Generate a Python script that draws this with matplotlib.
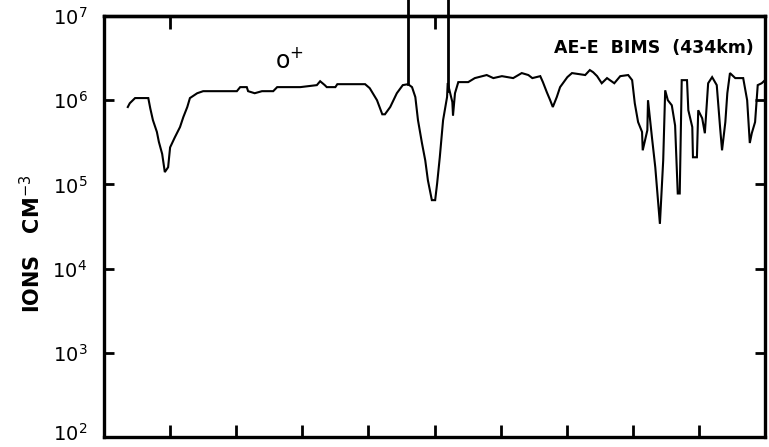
import matplotlib
matplotlib.use("Agg")
import matplotlib.pyplot as plt
import matplotlib.transforms as mtransforms
import numpy as np

# Time axis in tick-interval units (0..10), ion density in cm^-3
t = [0.36, 0.39, 0.47, 0.67, 0.70, 0.74, 0.80, 0.83, 0.88, 0.92, 0.97, 1.00, 1.07, 1.15, 1.20, 1.26, 1.30, 1.41, 1.50,
     2.01, 2.06, 2.16, 2.18, 2.28, 2.39, 2.56, 2.62, 2.77, 2.97, 3.22, 3.27, 3.34, 3.37, 3.50, 3.53, 3.95,
     4.02, 4.13, 4.21, 4.25, 4.33, 4.43, 4.52, 4.60, 4.66, 4.71, 4.75, 4.81, 4.86, 4.90, 4.96, 5.01, 5.04,
     5.08, 5.13, 5.19, 5.20, 5.27, 5.28, 5.31, 5.36, 5.51, 5.61, 5.79, 5.89, 6.02, 6.19, 6.32, 6.42, 6.48,
     6.60, 6.64, 6.70, 6.75, 6.79, 6.85, 6.90, 7.01, 7.08, 7.28, 7.35, 7.40, 7.46, 7.53, 7.61, 7.72, 7.81,
     7.93, 7.99, 8.03, 8.08, 8.14, 8.15, 8.22, 8.23, 8.29, 8.34, 8.38, 8.41, 8.46, 8.49, 8.53, 8.59, 8.64,
     8.68, 8.71, 8.74, 8.82, 8.84, 8.90, 8.91, 8.97, 8.99, 9.05, 9.09, 9.14, 9.20, 9.27, 9.32, 9.35, 9.40,
     9.43, 9.47, 9.55, 9.67, 9.73, 9.77, 9.80, 9.85, 9.89, 9.95, 10.0]
ions = [8.3e5, 9.2e5, 1.06e6, 1.06e6, 8.0e5, 5.8e5, 4.2e5, 3.2e5, 2.3e5, 1.4e5, 1.6e5, 2.75e5, 3.6e5, 4.8e5, 6.3e5, 8.3e5, 1.06e6, 1.21e6, 1.28e6,
        1.28e6, 1.43e6, 1.43e6, 1.28e6, 1.21e6, 1.28e6, 1.28e6, 1.43e6, 1.43e6, 1.43e6, 1.51e6, 1.68e6, 1.51e6, 1.43e6, 1.43e6, 1.55e6, 1.55e6,
        1.39e6, 1.0e6, 6.8e5, 6.8e5, 8.3e5, 1.21e6, 1.51e6, 1.55e6, 1.43e6, 1.09e6, 5.8e5, 3.1e5, 1.93e5, 1.12e5, 6.5e4, 6.5e4, 1.03e5,
        2.1e5, 5.8e5, 1.09e6, 1.6e6, 9.5e5, 6.6e5, 1.21e6, 1.64e6, 1.64e6, 1.83e6, 1.99e6, 1.83e6, 1.93e6, 1.83e6, 2.1e6, 1.99e6, 1.83e6,
        1.93e6, 1.64e6, 1.24e6, 1.0e6, 8.3e5, 1.09e6, 1.43e6, 1.88e6, 2.1e6, 1.99e6, 2.28e6, 2.15e6, 1.93e6, 1.59e6, 1.83e6, 1.59e6, 1.93e6,
        1.99e6, 1.73e6, 9.2e5, 5.5e5, 4.2e5, 2.54e5, 4.4e5, 1.0e6, 3.6e5, 1.6e5, 6.5e4, 3.4e4, 1.93e5, 1.31e6, 1.0e6, 8.7e5, 5.0e5,
        7.8e4, 7.8e4, 1.73e6, 1.73e6, 7.6e5, 4.8e5, 2.1e5, 2.1e5, 7.6e5, 6.1e5, 4.05e5, 1.59e6, 1.88e6, 1.51e6, 4.8e5, 2.54e5, 5.5e5,
        1.21e6, 2.1e6, 1.83e6, 1.83e6, 1.0e6, 3.1e5, 4.05e5, 5.5e5, 1.51e6, 1.59e6, 1.73e6]

marker_t = [4.60, 5.20]
marker_bottom = [1.55e6, 1.3e6]
marker_top = 1.55e7

ytick_vals = [1e2, 1e3, 1e4, 1e5, 1e6, 1e7]
ytick_labels = [r"$10^{2}$", r"$10^{3}$", r"$10^{4}$", r"$10^{5}$", r"$10^{6}$", r"$10^{7}$"]
xtick_vals = [1, 2, 3, 4, 5, 6, 7, 8, 9]
top_ticks = [1, 5]

fig = plt.figure(figsize=(7.69, 4.47), dpi=100)
ax = fig.add_axes([104/769, 1-437/447, (765-104)/769, (437-16)/447])
ax.set_yscale("log")
ax.set_xlim(0, 10)
ax.set_ylim(1e2, 1e7)

ax.plot(t, ions, color="black", lw=1.5, solid_joinstyle="miter")
for mt, mb in zip(marker_t, marker_bottom):
    ax.plot([mt, mt], [mb, marker_top], color="black", lw=2.0, clip_on=False)

for s in ax.spines.values():
    s.set_linewidth(2.4)

ax.set_yticks(ytick_vals)
ax.set_yticklabels(ytick_labels, fontsize=14)
ax.yaxis.set_minor_locator(matplotlib.ticker.NullLocator())
ax.tick_params(axis="y", which="major", direction="in", length=7, width=2, pad=12,
               right=True, left=True)
# nudge the bottom label up so it stays inside the figure
lab0 = ax.get_yticklabels()[0]
lab0.set_transform(lab0.get_transform() + mtransforms.ScaledTranslation(0, 4/72, fig.dpi_scale_trans))

ax.set_xticks(xtick_vals)
ax.set_xticklabels([])
ax.tick_params(axis="x", which="major", direction="in", length=9, width=2, bottom=True, top=False)

axt = ax.secondary_xaxis("top")
axt.set_xticks(top_ticks)
axt.set_xticklabels([])
axt.tick_params(direction="in", length=9, width=2)
axt.spines["top"].set_linewidth(2.4)

ax.text(0.983, 0.925, "AE-E  BIMS  (434km)", transform=ax.transAxes, ha="right", va="center",
        fontsize=12.5, fontweight="bold")
ax.text(0.258, 0.895, r"o$^{+}$", transform=ax.transAxes, ha="left", va="center", fontsize=17)
ax.set_ylabel(r"IONS   CM$^{-3}$", fontsize=15, fontweight="bold")
ax.yaxis.set_label_coords(-0.09, 0.46)

fig.savefig("out.png", dpi=100)
